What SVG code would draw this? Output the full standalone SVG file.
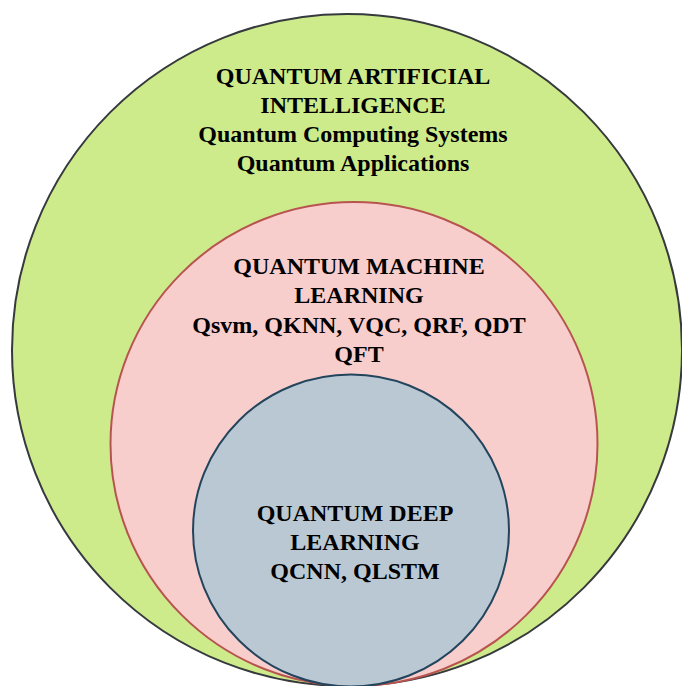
<svg xmlns="http://www.w3.org/2000/svg" width="682" height="686" viewBox="0 0 682 686">
  <style>
    .label { font-family: "Liberation Serif", "Times New Roman", serif; font-weight: bold; font-size: 24px; fill: #000000; text-anchor: middle; }
    .ai { fill: #cdeb8b; stroke: #36393d; stroke-width: 2; }
    .ml { fill: #f8cecc; stroke: #b85450; stroke-width: 2; }
    .dl { fill: #bac8d3; stroke: #23445d; stroke-width: 2; }
  </style>
  <rect x="0" y="0" width="682" height="686" fill="#ffffff"/>

  <!-- Outermost set: quantum AI -->
  <g id="quantum-ai">
    <ellipse class="ai" cx="347" cy="350" rx="335" ry="336"/>
    <text class="label" x="353" y="84">QUANTUM ARTIFICIAL</text>
    <text class="label" x="353" y="113">INTELLIGENCE</text>
    <text class="label" x="353" y="142">Quantum Computing Systems</text>
    <text class="label" x="353" y="171">Quantum Applications</text>
  </g>

  <!-- Middle set: quantum machine learning -->
  <g id="quantum-ml">
    <ellipse class="ml" cx="354" cy="444" rx="243.5" ry="242"/>
    <text class="label" x="359" y="274">QUANTUM MACHINE</text>
    <text class="label" x="359" y="303">LEARNING</text>
    <text class="label" x="359" y="333">Qsvm, QKNN, VQC, QRF, QDT</text>
    <text class="label" x="359" y="362">QFT</text>
  </g>

  <!-- Inner set: quantum deep learning -->
  <g id="quantum-dl">
    <ellipse class="dl" cx="351" cy="530.5" rx="158" ry="156"/>
    <text class="label" x="355" y="521">QUANTUM DEEP</text>
    <text class="label" x="355" y="550">LEARNING</text>
    <text class="label" x="355" y="579">QCNN, QLSTM</text>
  </g>

  <g id="connectors"/>
</svg>
